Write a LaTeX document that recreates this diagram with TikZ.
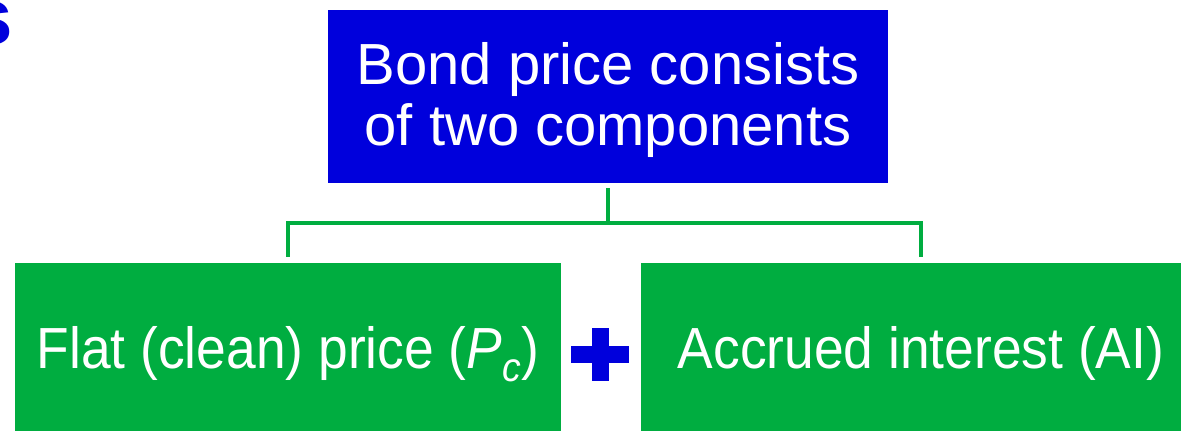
\documentclass[tikz,border=0pt]{standalone}
\usepackage{fontspec}
\setmainfont{Liberation Sans}
\newfontfamily\narrowfont[FakeStretch=0.92]{Liberation Sans}
\definecolor{myblue}{RGB}{0,0,220}
\definecolor{mygreen}{RGB}{0,173,64}
\begin{document}
\begin{tikzpicture}[x=1pt,y=1pt,
  toptxt/.style={font=\fontsize{58}{61}\selectfont, text=white, align=center, inner sep=0pt},
  topbox/.style={fill=myblue, minimum width=560pt, minimum height=173pt, inner sep=0pt},
  greenbox/.style={fill=mygreen, minimum height=180pt, text height=42pt, text depth=12pt, inner sep=0pt,
    font=\narrowfont\fontsize{58}{61}\selectfont, text=white},
  conn/.style={draw=mygreen, line width=4.5pt, line join=miter}]
\useasboundingbox (0,0) rectangle (1181,-431);
\node[font=\fontsize{80}{80}\selectfont\bfseries, text=myblue, anchor=base east, inner sep=0pt] (frag) at (13,-44) {s};
\node[topbox] (top) at (608,-96.5) {};
\node[toptxt] (toptext) at (608,-100.4) {Bond price consists\\of two components};
\node[greenbox, minimum width=546pt] (left) at (288,-353) {Flat (clean) price (\textit{P}\textsubscript{\textit{c}})};
\node[greenbox, minimum width=560pt] (right) at (921,-353) {Accrued interest (AI)};
\coordinate (bar) at (608,-223);
\draw[conn] ([yshift=-5pt]top.south) -- (bar);
\draw[conn] ([yshift=6pt]left.north) |- (bar) -| ([yshift=6pt]right.north);
\node[inner sep=0pt, minimum size=0pt] (plus) at (600,-354.5) {};
\fill[myblue] ([xshift=-29pt,yshift=-8.5pt]plus.center) rectangle ([xshift=29pt,yshift=8.5pt]plus.center);
\fill[myblue] ([xshift=-8.5pt,yshift=-26.5pt]plus.center) rectangle ([xshift=8.5pt,yshift=26.5pt]plus.center);
\end{tikzpicture}
\end{document}
